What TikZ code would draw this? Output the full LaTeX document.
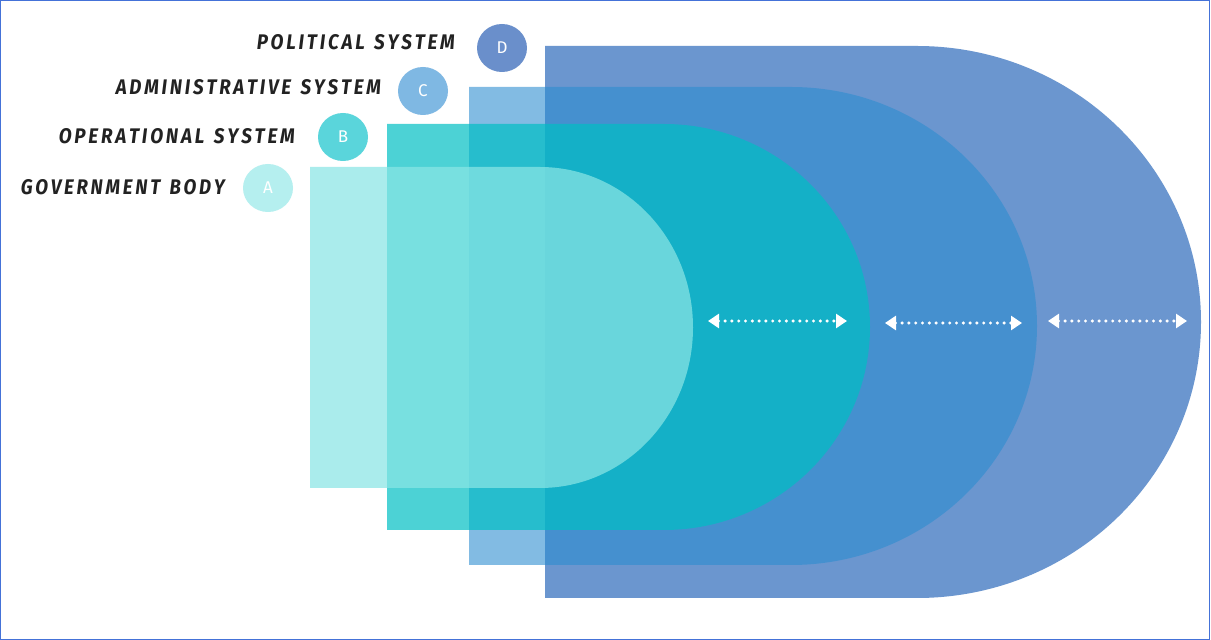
\documentclass[tikz,border=0pt]{standalone}
\usepackage{fontspec}
\usetikzlibrary{arrows.meta,shapes.geometric}
\newfontfamily\labelfont{Fira Sans}
\newfontfamily\badgefont{Fira Sans}
\definecolor{frameblue}{HTML}{4472D8}
\definecolor{colD}{RGB}{107,150,207}
\definecolor{colC}{RGB}{43,141,208}
\definecolor{colB}{RGB}{0,191,196}
\definecolor{colA}{RGB}{138,230,229}
\definecolor{dotD}{HTML}{6A8FCB}
\definecolor{dotC}{HTML}{7FB8E3}
\definecolor{dotB}{HTML}{5AD5DB}
\definecolor{dotA}{HTML}{B5EFEF}
\definecolor{labeltext}{HTML}{222222}
\tikzset{
  badge/.style={ellipse, minimum width=50pt, minimum height=48pt, inner sep=0pt, text=white, font=\badgefont\fontsize{17}{17}\selectfont},
  syslabel/.style={anchor=east, inner sep=0pt, text=labeltext},
  gap/.style={white, line width=3.4pt, line cap=round, dash pattern=on 0pt off 6.8pt, {Triangle[width=14pt,length=11pt]}-{Triangle[width=14pt,length=11pt]}}
}
\newcommand{\lbl}[3]{\resizebox{#1pt}{#2pt}{\labelfont\bfseries\itshape #3}}
\newcommand{\lsp}{\kern0.15em}
\newcommand{\wsp}{\kern0.5em}
\begin{document}
\begin{tikzpicture}[x=1pt,y=1pt]
\useasboundingbox (0,0) rectangle (1211,640);
\fill[white] (0,0) rectangle (1211,640);
\draw[frameblue, line width=1.2pt] (0.8,0.8) rectangle (1209.5,639.2);
% shapes (bottom to top)
\fill[colD] (545,42) -- (917,42) arc[start angle=-90,end angle=90,x radius=284,y radius=276] -- (545,594) -- cycle;
\fill[colC, fill opacity=0.59] (469,75) -- (791,75) arc[start angle=-90,end angle=90,x radius=246,y radius=239] -- (469,553) -- cycle;
\fill[colB, fill opacity=0.7] (387,110) -- (664,110) arc[start angle=-90,end angle=90,x radius=206,y radius=203] -- (387,516) -- cycle;
\fill[colA, fill opacity=0.72] (310,152) -- (540,152) arc[start angle=-90,end angle=90,x radius=153,y radius=160.5] -- (310,473) -- cycle;
% arrows
\coordinate (a1) at (708,319); \coordinate (b1) at (847,319);
\coordinate (a2) at (885,317); \coordinate (b2) at (1022,317);
\coordinate (a3) at (1048,319); \coordinate (b3) at (1187,319);
\draw[gap] (a1) -- (b1);
\draw[gap] (a2) -- (b2);
\draw[gap] (a3) -- (b3);
% badges
\node[badge, fill=dotD] (bd) at (502,592) {D};
\node[badge, fill=dotC] (bc) at (423,549) {C};
\node[badge, fill=dotB] (bb) at (343,503) {B};
\node[badge, fill=dotA] (ba) at (268,452) {A};
% labels
\node[syslabel] (ld) at (455,598) {\lbl{198}{15}{P\lsp O\lsp L\lsp I\lsp T\lsp I\lsp C\lsp A\lsp L\wsp S\lsp Y\lsp S\lsp T\lsp E\lsp M}};
\node[syslabel] (lc) at (381,553) {\lbl{265}{15}{A\lsp D\lsp M\lsp I\lsp N\lsp I\lsp S\lsp T\lsp R\lsp A\lsp T\lsp I\lsp V\lsp E\wsp S\lsp Y\lsp S\lsp T\lsp E\lsp M}};
\node[syslabel] (lb) at (295,504) {\lbl{236}{15}{O\lsp P\lsp E\lsp R\lsp A\lsp T\lsp I\lsp O\lsp N\lsp A\lsp L\wsp S\lsp Y\lsp S\lsp T\lsp E\lsp M}};
\node[syslabel] (la) at (225,453) {\lbl{204}{15}{G\lsp O\lsp V\lsp E\lsp R\lsp N\lsp M\lsp E\lsp N\lsp T\wsp B\lsp O\lsp D\lsp Y}};
\end{tikzpicture}
\end{document}
